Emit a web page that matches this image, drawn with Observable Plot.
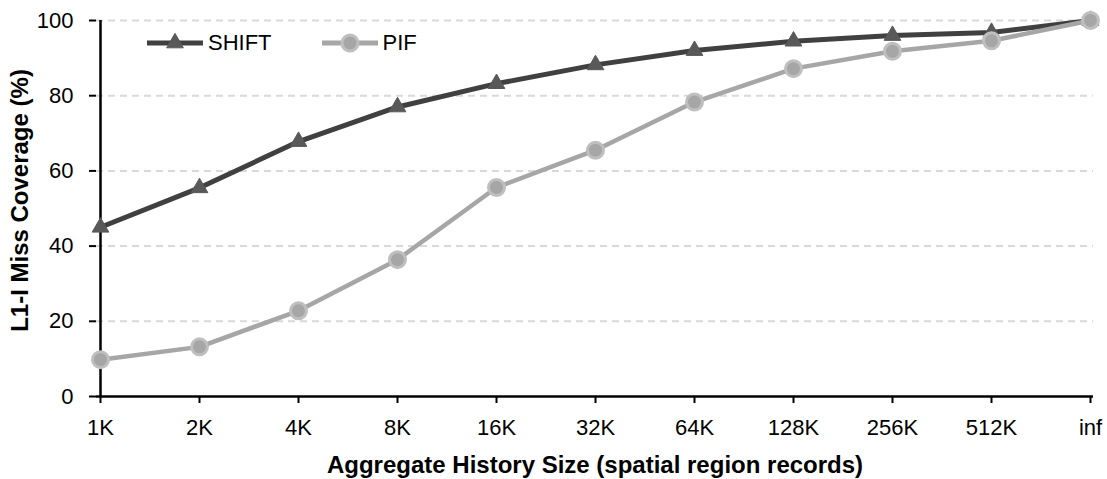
<!DOCTYPE html>
<html>
<head>
<meta charset="utf-8">
<script src="https://cdn.jsdelivr.net/npm/d3@7"></script>
<script src="https://cdn.jsdelivr.net/npm/@observablehq/plot@0.6"></script>
<style>
  html, body { margin: 0; padding: 0; background: #fff; }
  #wrap { position: relative; width: 1107px; height: 479px; font-family: "Liberation Sans", Arial, sans-serif; }
  #legend { position: absolute; left: 147px; top: 29px; display: flex; align-items: center; font-size: 22px; color: #000; }
  .item { display: flex; align-items: center; }
  .item svg { display: block; }
  .item span { margin-left: 5px; line-height: 28px; }
</style>
</head>
<body>
<div id="wrap">
  <div id="chart"></div>
  <div id="legend"></div>
</div>
<script>
const sizes = ["1K", "2K", "4K", "8K", "16K", "32K", "64K", "128K", "256K", "512K", "inf"];
const shift = [45, 55.5, 67.8, 77, 83.2, 88.2, 92, 94.5, 96, 96.8, 100];
const pif = [9.8, 13.2, 22.8, 36.4, 55.6, 65.5, 78.3, 87.2, 91.8, 94.6, 100];
const yTicks = [0, 20, 40, 60, 80, 100];
const gridTicks = [20, 40, 60, 80, 100];
const xTitle = "Aggregate History Size (spatial region records)";
const yTitle = "L1-I Miss Coverage (%)";

const shiftData = sizes.map((s, i) => ({size: s, value: shift[i]}));
const pifData = sizes.map((s, i) => ({size: s, value: pif[i]}));

const FONT = "'Liberation Sans', Arial, sans-serif";

const chart = Plot.plot({
  width: 1107,
  height: 479,
  marginLeft: 96,
  marginRight: 14,
  marginTop: 20,
  marginBottom: 83,
  style: {fontFamily: FONT, fontSize: "22px", color: "#000", background: "#fff"},
  x: {type: "point", domain: sizes, padding: 0, label: null},
  y: {domain: [0, 100], label: null},
  marks: [
    Plot.ruleY(gridTicks, {stroke: "#d9d9d9", strokeWidth: 2, strokeDasharray: "7,5"}),
    Plot.axisX({tickSize: 7, tickPadding: 16, fontSize: 22, stroke: "#000", strokeWidth: 2, fill: "#000", label: null}),
    Plot.axisY({ticks: yTicks, tickSize: 7, tickPadding: 16, fontSize: 22, stroke: "#000", strokeWidth: 2, fill: "#000", label: null}),
    Plot.ruleY([0], {stroke: "#000", strokeWidth: 2.5}),
    Plot.ruleX([sizes[0]], {stroke: "#000", strokeWidth: 2.5}),
    Plot.line(shiftData, {x: "size", y: "value", stroke: "#404040", strokeWidth: 5}),
    Plot.dot(shiftData, {x: "size", y: "value", symbol: "triangle", r: 6.2, fill: "#595959", stroke: "#595959", strokeWidth: 1}),
    Plot.line(pifData, {x: "size", y: "value", stroke: "#a6a6a6", strokeWidth: 4.5}),
    Plot.dot(pifData, {x: "size", y: "value", r: 8, fill: "#a6a6a6", stroke: "#bfbfbf", strokeWidth: 3}),
    Plot.text([xTitle], {frameAnchor: "bottom", dy: 76, fontSize: 24, fontWeight: "bold", fill: "#000"}),
    Plot.text([yTitle], {frameAnchor: "left", textAnchor: "middle", lineAnchor: "middle", dx: -76, dy: -8, rotate: -90, fontSize: 24, fontWeight: "bold", fill: "#000"})
  ]
});
document.getElementById("chart").appendChild(chart);

// Legend
const legendItems = [
  {name: "SHIFT", line: "#404040", marker: "triangle", fill: "#595959", stroke: "#595959", sw: 1},
  {name: "PIF", line: "#a6a6a6", marker: "circle", fill: "#a6a6a6", stroke: "#bfbfbf", sw: 3}
];
const legend = d3.select("#legend");
legendItems.forEach((it, i) => {
  const item = legend.append("div").attr("class", "item").style("margin-left", i === 0 ? "0px" : "50px");
  const svg = item.append("svg").attr("width", 56).attr("height", 28);
  svg.append("line").attr("x1", 0).attr("x2", 56).attr("y1", 14).attr("y2", 14)
    .attr("stroke", it.line).attr("stroke-width", 5).attr("stroke-linecap", "round");
  const sym = it.marker === "triangle" ? d3.symbolTriangle : d3.symbolCircle;
  const size = it.marker === "triangle" ? Math.PI * 6.2 * 6.2 : Math.PI * 8 * 8;
  svg.append("path").attr("d", d3.symbol(sym, size)()).attr("transform", "translate(28,14)")
    .attr("fill", it.fill).attr("stroke", it.stroke).attr("stroke-width", it.sw);
  item.append("span").text(it.name);
});
</script>
</body>
</html>
